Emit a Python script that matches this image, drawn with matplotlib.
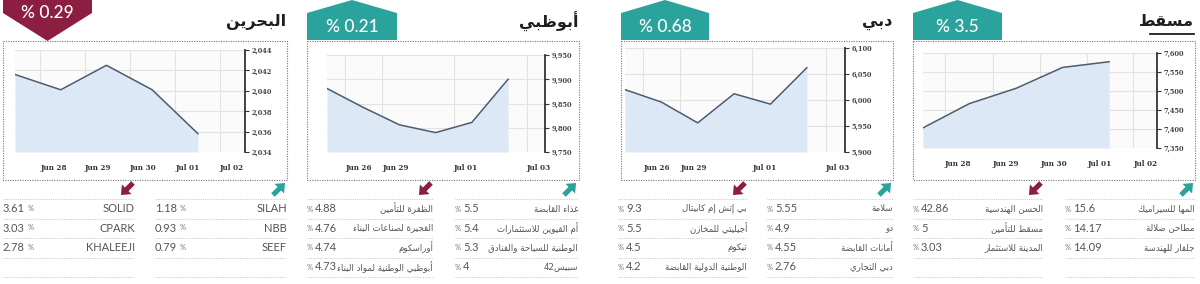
import re
import numpy as np
import matplotlib
matplotlib.use('Agg')
import matplotlib.pyplot as plt
from matplotlib.patches import Polygon
from matplotlib.ticker import FuncFormatter

# ---- data ----
titles = ['البحرين', 'أبوظبي', 'دبي', 'مسقط']
badges = ['% 0.29', '% 0.21', '% 0.68', '% 3.5']
badge_up = [False, True, True, True]

bahrain_idx = [2041.6, 2040.1, 2042.5, 2040.1, 2035.8]
abudhabi_idx = [9881, 9842, 9806, 9790, 9811, 9900]
dubai_idx = [6020, 5996, 5956, 6012, 5992, 6062]
muscat_idx = [7403, 7467, 7507, 7562, 7577]

bahrain_dates = ['Jun 28', 'Jun 29', 'Jun 30', 'Jul 01', 'Jul 02']
gulf_dates = ['Jun 26', 'Jun 29', 'Jul 01', 'Jul 03']
muscat_dates = ['Jun 28', 'Jun 29', 'Jun 30', 'Jul 01', 'Jul 02']

bahrain_ticks = [2034, 2036, 2038, 2040, 2042, 2044]
abudhabi_ticks = [9750, 9800, 9850, 9900, 9950]
dubai_ticks = [5900, 5950, 6000, 6050, 6100]
muscat_ticks = [7350, 7400, 7450, 7500, 7550, 7600]

bahrain_down = [('SOLID', '3.61'), ('CPARK', '3.03'), ('KHALEEJI', '2.78')]
bahrain_up = [('SILAH', '1.18'), ('NBB', '0.93'), ('SEEF', '0.79')]
abudhabi_down = [('الظفرة للتأمين', '4.88'), ('الفجيرة لصناعات البناء', '4.76'),
                 ('أوراسكوم', '4.74'), ('أبوظبي الوطنية لمواد البناء', '4.73')]
abudhabi_up = [('غذاء القابضة', '5.5'), ('أم القيوين للاستثمارات', '5.4'),
               ('الوطنية للسياحة والفنادق', '5.3'), ('سبيس42', '4')]
dubai_down = [('بي إتش إم كابيتال', '9.3'), ('أجيليتي للمخازن', '5.5'),
              ('تيكوم', '4.5'), ('الوطنية الدولية القابضة', '4.2')]
dubai_up = [('سلامة', '5.55'), ('دو', '4.9'), ('أمانات القابضة', '4.55'), ('دبي التجاري', '2.76')]
muscat_down = [('الحسن الهندسية', '42.86'), ('مسقط للتأمين', '5'), ('المدينة للاستثمار', '3.03')]
muscat_up = [('المها للسيراميك', '15.6'), ('مطاحن صلالة', '14.17'), ('جلفار للهندسة', '14.09')]

MAROON = '#8c1f41'
TEAL = '#2aa39c'

# ---- minimal arabic shaping (matplotlib has no bidi / shaping) ----
DUAL = dict(zip('ئبتثجحخسشصضطظعغفقكلمنهي',
                [0xFE89, 0xFE8F, 0xFE95, 0xFE99, 0xFE9D, 0xFEA1, 0xFEA5, 0xFEB1, 0xFEB5, 0xFEB9,
                 0xFEBD, 0xFEC1, 0xFEC5, 0xFEC9, 0xFECD, 0xFED1, 0xFED5, 0xFED9, 0xFEDD, 0xFEE1,
                 0xFEE5, 0xFEE9, 0xFEF1]))
RIGHT = dict(zip('آأؤإاةدذرزوى',
                 [0xFE81, 0xFE83, 0xFE85, 0xFE87, 0xFE8D, 0xFE93, 0xFEA9, 0xFEAB, 0xFEAD, 0xFEAF,
                  0xFEED, 0xFEEF]))
LAMALEF = dict(zip('آأإا', [0xFEF5, 0xFEF7, 0xFEF9, 0xFEFB]))


def ar(s):
    chars = []
    i = 0
    while i < len(s):
        if s[i] == 'ل' and i + 1 < len(s) and s[i + 1] in LAMALEF:
            chars.append(('LA', s[i + 1]))
            i += 2
        else:
            chars.append(s[i])
            i += 1

    def kind(c):
        if isinstance(c, tuple) or c in RIGHT:
            return 'R'
        if c in DUAL:
            return 'D'
        return 'N'

    out = []
    for j, c in enumerate(chars):
        k = kind(c)
        prev = kind(chars[j - 1]) if j > 0 else 'N'
        nxt = kind(chars[j + 1]) if j + 1 < len(chars) else 'N'
        jp = k in 'DR' and prev == 'D'
        jn = k == 'D' and nxt in 'DR'
        if isinstance(c, tuple):
            out.append(chr(LAMALEF[c[1]] + (1 if jp else 0)))
        elif k == 'D':
            out.append(chr(DUAL[c] + (3 if jp and jn else 1 if jp else 2 if jn else 0)))
        elif k == 'R':
            out.append(chr(RIGHT[c] + (1 if jp else 0)))
        else:
            out.append('\uFE80' if c == 'ء' else c)
    t = ''.join(out)[::-1]
    return re.sub(r'[0-9A-Za-z.,]+', lambda m: m.group()[::-1], t)


def is_ar(s):
    return any('\u0600' <= ch <= '\u06ff' for ch in s)


# ---- figure ----
W, H = 1200, 284
fig = plt.figure(figsize=(12, 2.84), dpi=100)
bg = fig.add_axes([0, 0, 1, 1])
bg.set_xlim(0, W)
bg.set_ylim(H, 0)
bg.axis('off')


def px_axes(x0, y0, x1, y1):
    return fig.add_axes([x0 / W, 1 - y1 / H, (x1 - x0) / W, (y1 - y0) / H])


# layout per panel: box x-range, badge x-range, chart rect, loser column, gainer column
layouts = [
    dict(box=(3, 287), badge=(3, 92), chart=(15, 50, 245, 152), lcol=(3, 135), gcol=(155, 287)),
    dict(box=(307, 579), badge=(307, 397), chart=(327, 55, 545, 152), lcol=(307, 433), gcol=(455, 578)),
    dict(box=(621, 893), badge=(621, 709), chart=(625, 48, 845, 152), lcol=(618, 747), gcol=(767, 893)),
    dict(box=(913, 1195), badge=(913, 1002), chart=(923, 53, 1157, 148), lcol=(913, 1043), gcol=(1065, 1195)),
]

series = [bahrain_idx, abudhabi_idx, dubai_idx, muscat_idx]
yticks = [bahrain_ticks, abudhabi_ticks, dubai_ticks, muscat_ticks]
xlabels = [bahrain_dates, gulf_dates, gulf_dates, muscat_dates]
xgrid = [[0.55, 1.53, 2.51, 3.5, 4.48], [0.5, 1.52, 3.5, 5.52],
         [0.5, 1.52, 3.5, 5.52], [0.47, 1.5, 2.52, 3.53, 4.52]]
xmax = [5.03, 6.02, 6.05, 5.03]
downs = [bahrain_down, abudhabi_down, dubai_down, muscat_down]
ups = [bahrain_up, abudhabi_up, dubai_up, muscat_up]


def arrow(x, y, up, color, size=8.5):
    pts = np.array([[-1.0, -0.3], [0.05, -0.3], [0.05, -0.8], [1.0, 0.0],
                    [0.05, 0.8], [0.05, 0.3], [-1.0, 0.3]])
    ang = np.deg2rad(45 if up else 225)
    rot = np.array([[np.cos(ang), -np.sin(ang)], [np.sin(ang), np.cos(ang)]])
    p = pts @ rot.T * size
    p[:, 1] = -p[:, 1]
    bg.add_patch(Polygon(p + [x, y], closed=True, color=color, lw=0))


row_lines = [199, 218.5, 238, 257.5, 277]

for k, L in enumerate(layouts):
    bx0, bx1 = L['box']
    # dotted box around chart
    bg.plot([bx0, bx1, bx1, bx0, bx0], [40.5, 40.5, 180, 180, 40.5], color='#777', lw=0.8,
            ls=(0, (1, 1.2)), zorder=1)

    # badge
    a, b = L['badge']
    c = (a + b) / 2
    if badge_up[k]:
        poly = [(a, 13), (c, 0), (b, 13), (b, 40), (a, 40)]
        col, ty = TEAL, 27
    else:
        poly = [(a, 0), (b, 0), (b, 13), (c, 41), (a, 13)]
        col, ty = MAROON, 13
    bg.add_patch(Polygon(poly, closed=True, color=col, lw=0, zorder=3))
    bg.text(c, ty, badges[k], color='white', fontsize=12.5, family='Lato', fontweight='medium',
            ha='center', va='center', zorder=4)

    # title
    bg.text(bx1 - 1, 22, ar(titles[k]), fontsize=11.5, fontweight='bold', family='DejaVu Sans',
            color='#1e1e1e', ha='right', va='center')
    if k == 3:
        bg.plot([1150, 1194], [33.5, 33.5], color='#1e1e1e', lw=1.3)

    # chart
    ax = px_axes(*L['chart'])
    v = series[k]
    x = np.arange(len(v))
    lo = yticks[k][0]
    ax.fill_between(x, v, lo, color='#dce8f5', lw=0, zorder=2)
    ax.plot(x, v, color='#4d5b6b', lw=1.1, zorder=3)
    ax.set_xlim(0, xmax[k])
    ax.set_ylim(yticks[k][0], yticks[k][-1])
    ax.set_facecolor('#fbfbfb')
    ax.set_xticks(xgrid[k])
    ax.set_xticklabels(xlabels[k], ha='left', family='DejaVu Serif', fontweight='bold',
                       fontsize=5.2, color='#333')
    ax.set_yticks(yticks[k])
    ax.yaxis.tick_right()
    ax.yaxis.set_major_formatter(FuncFormatter(lambda val, pos: f'{val:,.0f}'))
    for lab in ax.get_yticklabels():
        lab.set_family('DejaVu Serif')
        lab.set_fontweight('bold')
    ax.grid(color='#e2e2e2', lw=0.8, zorder=0)
    ax.set_axisbelow(True)
    for s in ['left', 'top', 'bottom']:
        ax.spines[s].set_visible(False)
    ax.spines['right'].set_color('#333')
    ax.spines['right'].set_linewidth(1.3)
    ax.tick_params(axis='y', direction='out', length=3, width=0.8, color='#333',
                   labelsize=4.8, labelcolor='#444', pad=1.5)
    ax.tick_params(axis='x', length=0, pad=9)

    # tables
    arabic_panel = k > 0
    for rows, (cx0, cx1), up in [(downs[k], L['lcol'], False), (ups[k], L['gcol'], True)]:
        arrow(cx1 - 8, 189, up, TEAL if up else MAROON)
        for y in row_lines:
            bg.plot([cx0, cx1], [y, y], color='#bdbdbd', lw=0.6, ls=(0, (1, 1.2)))
        for i, (name, val) in enumerate(rows):
            ty = row_lines[i] + 9.5
            if is_ar(name):
                bg.text(cx1, ty, ar(name), fontsize=6.2, family='DejaVu Sans', color='#555',
                        ha='right', va='center')
            else:
                bg.text(cx1, ty, name, fontsize=8, family='Lato', color='#555',
                        ha='right', va='center')
            if arabic_panel:
                bg.text(cx0, ty + 0.5, '%', fontsize=5.5, family='Lato', color='#777',
                        ha='left', va='center')
                bg.text(cx0 + 8, ty, val, fontsize=8, family='Lato', color='#555',
                        ha='left', va='center')
            else:
                t = bg.text(cx0, ty, val, fontsize=8, family='Lato', color='#555',
                            ha='left', va='center')
                bg.annotate('%', xy=(1, 0.5), xycoords=t, xytext=(2, 0),
                            textcoords='offset points', fontsize=5.5, family='Lato',
                            color='#777', ha='left', va='center')

fig.savefig('out.png', dpi=100)
